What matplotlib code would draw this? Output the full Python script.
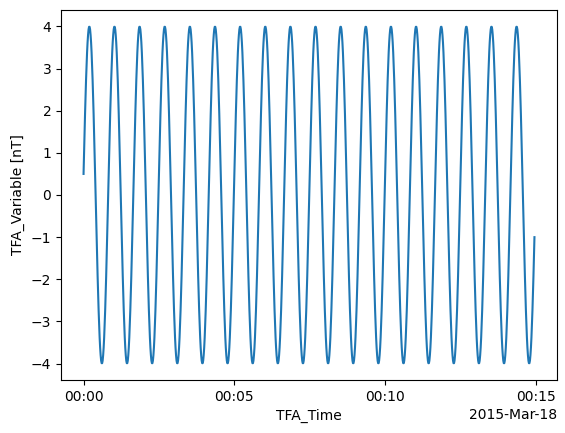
import matplotlib
matplotlib.use("Agg")
import matplotlib.pyplot as plt
import matplotlib.dates as mdates
import numpy as np
import pandas as pd

# valores: medio ciclo (cada 1 s), el otro medio es el negativo
medio_ciclo = [0.50, 0.99, 1.47, 1.93, 2.35, 2.74, 3.08, 3.38, 3.62, 3.80,
               3.93, 3.99, 3.99, 3.93, 3.80, 3.62, 3.38, 3.08, 2.74, 2.35,
               1.93, 1.47, 1.00, 0.50, 0.00]
n_ciclos = 18
n_muestras = 898
inicio = "2015-03-18 00:00:00"

ciclo = medio_ciclo + [-v for v in medio_ciclo]
valores = np.tile(ciclo, n_ciclos)[:n_muestras]
tiempos = pd.date_range(inicio, periods=n_muestras, freq="s")

fig = plt.figure(figsize=(5.65, 4.33), dpi=100)
ax = fig.add_axes([61 / 565, 53 / 433, 496 / 565, 370 / 433])
ax.plot(tiempos, valores, color="#1f77b4")

loc = mdates.AutoDateLocator()
ax.xaxis.set_major_locator(loc)
ax.xaxis.set_major_formatter(mdates.ConciseDateFormatter(loc))
ax.set_xlabel("TFA_Time")
ax.set_ylabel("TFA_Variable [nT]")

fig.savefig("out.png", dpi=100)
